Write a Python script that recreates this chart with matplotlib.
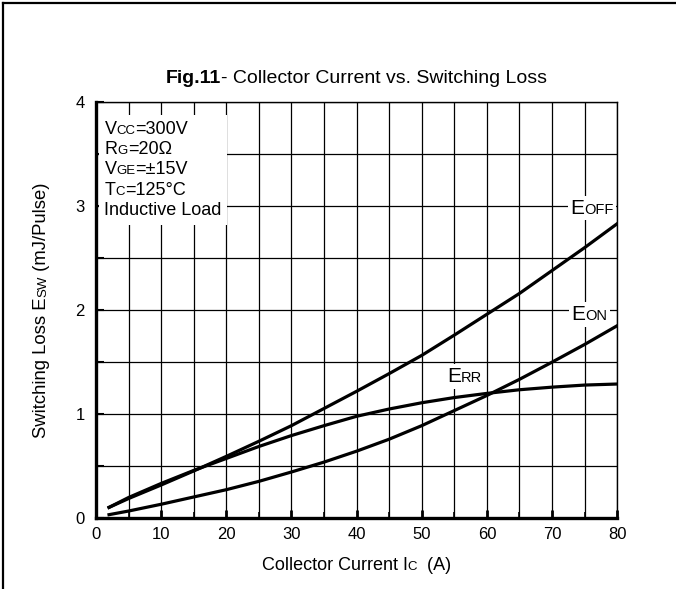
import matplotlib
matplotlib.use('Agg')
import matplotlib.pyplot as plt
from matplotlib.offsetbox import TextArea, HPacker, VPacker, AnnotationBbox
from matplotlib.lines import Line2D

plt.rcParams['font.family'] = ['Liberation Sans', 'DejaVu Sans']

# collector current (A) and switching losses (mJ/pulse)
ic = [2, 5, 10, 15, 20, 25, 30, 35, 40, 45, 50, 55, 60, 65, 70, 75, 80]
e_off = [0.105, 0.19, 0.32, 0.455, 0.595, 0.74, 0.89, 1.055, 1.22, 1.39,
         1.565, 1.76, 1.96, 2.16, 2.38, 2.6, 2.83]
e_on = [0.035, 0.07, 0.135, 0.205, 0.275, 0.355, 0.445, 0.54, 0.645, 0.76,
        0.89, 1.035, 1.18, 1.335, 1.5, 1.67, 1.85]
e_rr = [0.105, 0.2, 0.335, 0.46, 0.575, 0.69, 0.795, 0.89, 0.98, 1.05,
        1.11, 1.16, 1.2, 1.235, 1.26, 1.28, 1.29]

# (big part, small part) pairs for labels with small-caps style suffixes
cond_lines = [[('V', 'CC'), ('=300V', None)],
              [('R', 'G'), ('=20Ω', None)],
              [('V', 'GE'), ('=±15V', None)],
              [('T', 'C'), ('=125°C', None)],
              [('Inductive Load', None)]]
ylabel_parts = [('Switching Loss E', 13.3), ('SW', 9.5), (' (mJ/Pulse)', 13.3)]


def row(parts, big, small, weight='normal'):
    boxes = []
    for b, s in parts:
        boxes.append(TextArea(b, textprops=dict(fontsize=big, fontweight=weight)))
        if s:
            boxes.append(TextArea(s, textprops=dict(fontsize=small)))
    return HPacker(children=boxes, align='baseline', pad=0, sep=0)


def tag(ax, parts, xy, big, small, coords='data', align=(0, 0.5), pad=0.2):
    ab = AnnotationBbox(row(parts, big, small), xy, xycoords=coords,
                        box_alignment=align, frameon=True, pad=pad,
                        bboxprops=dict(fc='white', ec='none'), zorder=1.5)
    ax.add_artist(ab)
    return ab


fig = plt.figure(figsize=(6.76, 5.89), dpi=100)
ax = fig.add_axes([0.142, 0.12, 0.771, 0.707])

ax.plot(ic, e_off, color='black', lw=2.3, zorder=2)
ax.plot(ic, e_on, color='black', lw=2.3, zorder=2)
ax.plot(ic, e_rr, color='black', lw=2.3, zorder=2)

ax.set_xlim(0, 80)
ax.set_ylim(0, 4)
ax.set_xticks(range(0, 81, 10))
ax.set_xticks(range(5, 80, 10), minor=True)
ax.set_yticks([0, 1, 2, 3, 4])
ax.set_yticks([0.5, 1.5, 2.5, 3.5], minor=True)
ax.set_axisbelow(True)
ax.grid(which='both', color='black', lw=0.9)
ax.tick_params(axis='x', which='major', direction='in', length=6, width=2,
               pad=6, labelsize=12)
ax.tick_params(axis='x', which='minor', direction='in', length=4, width=1.2)
ax.tick_params(axis='y', which='both', direction='in', length=6, width=1.5,
               pad=8, labelsize=12)
for s in ['left', 'bottom']:
    ax.spines[s].set_linewidth(2.4)
for s in ['top', 'right']:
    ax.spines[s].set_linewidth(1.0)

# curve labels
tag(ax, [('E', 'OFF')], (72.8, 2.98), 15, 10.5)
tag(ax, [('E', 'ON')], (73.0, 1.96), 15, 10.5)
tag(ax, [('E', 'RR')], (53.9, 1.36), 15, 10.5)

# test conditions box
lines = [row(p, 13, 9.5) for p in cond_lines]
box = VPacker(children=lines, align='left', pad=0, sep=2.4)
ax.add_artist(AnnotationBbox(box, (1.3, 3.82), box_alignment=(0, 1),
                             frameon=True, pad=0.4, zorder=1.5,
                             bboxprops=dict(fc='white', ec='none')))

# title: bold figure number followed by plain text
ttl = HPacker(children=[TextArea('Fig.11', textprops=dict(fontsize=14, fontweight='bold')),
                        TextArea('- Collector Current vs. Switching Loss',
                                 textprops=dict(fontsize=14))],
              align='baseline', pad=0, sep=0)
ax.add_artist(AnnotationBbox(ttl, (0.5, 1.055), xycoords='axes fraction',
                             box_alignment=(0.5, 0.5), frameon=False))

# x label
tag(ax, [('Collector Current I', 'C'), ('  (A)', None)], (0.5, -0.113),
    13, 9.5, coords='axes fraction', align=(0.5, 0.5))

# y label: rotated pieces laid end to end on a common baseline
pieces = [fig.text(0, 0, t, rotation=90, rotation_mode='anchor', fontsize=fs,
                   ha='left', va='baseline') for t, fs in ylabel_parts]
fig.canvas.draw()
r = fig.canvas.get_renderer()
lengths = [p.get_window_extent(r).height for p in pieces]
base_x = 46 / fig.bbox.width
mid_y = ax.get_position().y0 * fig.bbox.height \
    + ax.get_position().height * fig.bbox.height / 2
y = mid_y - sum(lengths) / 2
for p, L in zip(pieces, lengths):
    p.set_position((base_x, y / fig.bbox.height))
    y += L

# outer frame lines of the datasheet page
fig.add_artist(Line2D([0.0045, 0.0045], [0, 0.995], transform=fig.transFigure,
                      color='black', lw=1.6))
fig.add_artist(Line2D([0.0045, 1], [0.995, 0.995], transform=fig.transFigure,
                      color='black', lw=1.6))

fig.savefig('out.png', dpi=100)
